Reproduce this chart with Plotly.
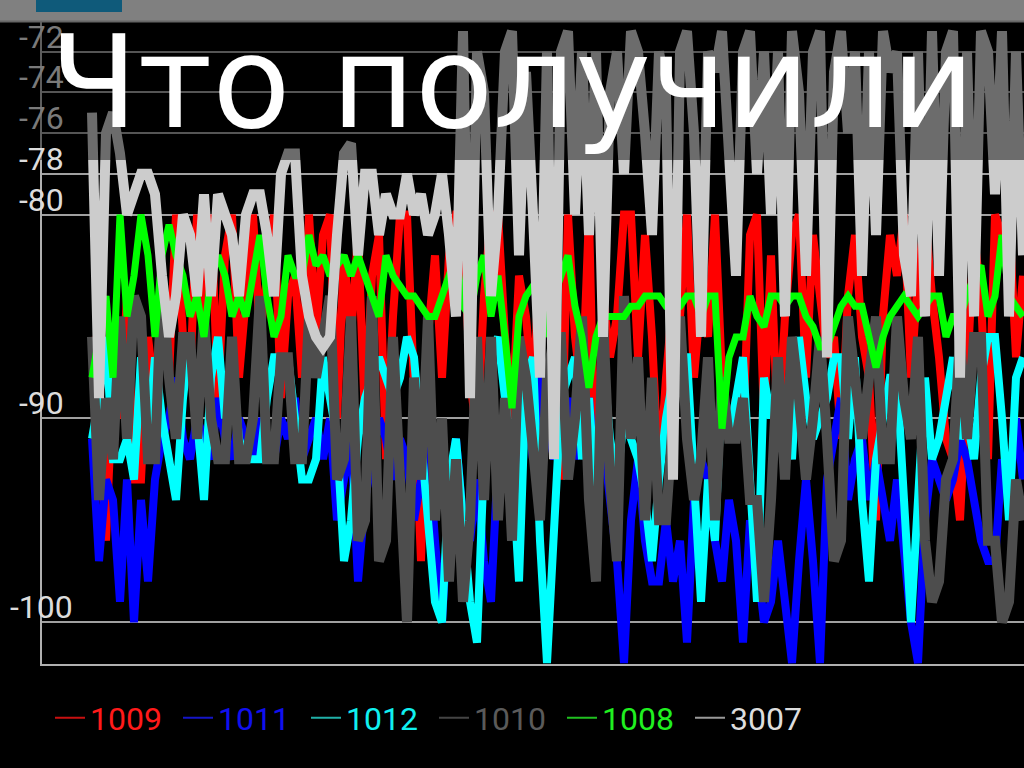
import plotly.graph_objects as go

# ---------------- data (dBm readings, one per sample) ----------------
s1009 = [-86, -90, -96, -88, -90, -84, -93, -93, -86, -89,
         -84, -88, -80, -86, -88, -80, -86, -80, -89, -82,
         -80, -88, -84, -80, -86, -83, -80, -89, -84, -83,
         -88, -80, -86, -81, -80, -90, -82, -86, -81, -90,
         -83, -81, -92, -85, -80, -80, -88, -97, -86, -82,
         -88, -82, -80, -80, -88, -91, -84, -80, -80, -86,
         -90, -83, -85, -89, -82, -80, -87, -93, -80, -86,
         -89, -80, -95, -84, -87, -85, -80, -80, -87, -81,
         -86, -93, -88, -84, -85, -80, -88, -84, -86, -80,
         -88, -91, -89, -91, -81, -80, -90, -82, -91, -85,
         -81, -80, -88, -81, -84, -87, -86, -91, -84, -81,
         -86, -88, -95, -85, -81, -83, -80, -88, -83, -80,
         -84, -87, -91, -92, -95, -88, -81, -84, -92, -80,
         -81, -80, -87, -83]

s1011 = [-91, -97, -93, -94, -99, -93, -100, -94, -98, -93,
         -91, -90, -88, -91, -92, -90, -91, -92, -89, -91,
         -92, -90, -91, -92, -90, -91, -92, -90, -91, -89,
         -92, -91, -90, -92, -90, -95, -93, -91, -98, -94,
         -92, -90, -91, -93, -91, -92, -95, -93, -91, -96,
         -100, -94, -91, -95, -96, -93, -97, -99, -92, -90,
         -91, -94, -89, -92, -88, -90, -92, -91, -89, -92,
         -90, -89, -93, -91, -94, -97, -102, -95, -92, -96,
         -98, -98, -95, -98, -96, -101, -94, -92, -93, -96,
         -98, -94, -96, -101, -95, -97, -100, -99, -96, -99,
         -102, -97, -93, -97, -102, -93, -91, -89, -94, -92,
         -91, -94, -92, -94, -96, -93, -97, -100, -102, -95,
         -92, -93, -94, -93, -91, -92, -94, -96, -97, -97,
         -92, -94, -90, -93]

s1012 = [-91, -89, -86, -92, -92, -91, -93, -87, -91, -87,
         -90, -92, -94, -89, -86, -90, -94, -88, -86, -90,
         -87, -91, -92, -92, -92, -89, -87, -87, -87, -90,
         -93, -93, -92, -87, -89, -91, -97, -95, -91, -89,
         -88, -87, -88, -89, -88, -86, -87, -91, -95, -99,
         -100, -93, -91, -95, -99, -101, -92, -87, -86, -89,
         -92, -98, -88, -87, -96, -102, -96, -89, -88, -87,
         -92, -89, -94, -87, -91, -93, -90, -91, -92, -94,
         -97, -93, -90, -88, -87, -87, -93, -99, -93, -96,
         -88, -91, -89, -87, -93, -99, -88, -90, -88, -90,
         -92, -86, -89, -91, -90, -89, -87, -87, -91, -87,
         -94, -98, -92, -90, -88, -88, -95, -100, -94, -88,
         -92, -91, -89, -87, -91, -90, -92, -88, -86, -86,
         -90, -95, -88, -87]

s1010 = [-86, -94, -89, -92, -85, -91, -84, -85, -92, -92,
         -83, -88, -91, -86, -86, -91, -85, -90, -92, -92,
         -86, -92, -92, -90, -84, -92, -92, -87, -87, -92,
         -92, -85, -88, -86, -84, -93, -92, -85, -96, -95,
         -84, -97, -96, -86, -92, -100, -88, -93, -85, -95,
         -90, -98, -92, -99, -95, -86, -94, -86, -95, -89,
         -96, -86, -88, -92, -95, -88, -86, -86, -93, -90,
         -85, -94, -98, -85, -93, -97, -84, -91, -87, -95,
         -88, -95, -95, -90, -85, -91, -94, -92, -87, -95,
         -88, -91, -91, -89, -94, -94, -99, -94, -87, -93,
         -86, -89, -93, -90, -86, -91, -97, -96, -85, -88,
         -91, -88, -85, -92, -92, -85, -89, -91, -86, -96,
         -99, -98, -93, -92, -86, -91, -86, -86, -96, -96,
         -100, -99, -93, -95]

s1008 = [-88, -86, -84, -88, -80, -85, -83, -80, -82, -86,
         -82, -80.5, -82, -83, -85, -84, -86, -83, -82, -83,
         -85, -84, -85, -83, -81, -84, -86, -85, -82, -83,
         -83, -81, -82.5, -82, -83, -82.5, -82, -83, -82, -83,
         -84, -85, -82, -83, -83.5, -84, -84, -84.5, -85, -85,
         -84, -83, -82, -84.5, -85, -83, -82, -85, -83, -86,
         -89.5, -85, -84, -83.5, -83, -86, -84, -83, -82, -84.5,
         -86, -88.5, -86, -85, -85, -85, -85, -84.5, -84.5, -84,
         -84, -84, -84.5, -84.5, -84.5, -84, -84, -85, -84, -84,
         -90.5, -87, -86, -86, -84, -85, -85.5, -84, -84, -84.5,
         -84, -84, -85, -85.5, -86.5, -86.5, -85.5, -84.5, -84, -84.5,
         -84.5, -86, -87.5, -86, -85, -84.5, -84, -84.5, -85, -84.5,
         -84, -84, -86, -85, -85, -84, -83, -82.5, -85, -84,
         -81, -84, -84.5, -85]

s3007 = [-75, -89, -76, -75, -77, -80, -79, -78, -78, -79,
         -83, -86, -84, -80, -81, -84, -79, -84, -79, -80,
         -81, -84, -80, -79, -79, -81, -84, -78, -77, -77,
         -83, -85, -86, -86.5, -86, -81, -77, -76.5, -82, -78,
         -78, -81, -79, -80, -80, -78, -80, -79, -81, -80,
         -78, -81, -85, -71, -89, -72, -74, -84, -80, -72,
         -71, -82, -73, -80, -88, -72, -92, -72, -71, -80,
         -72, -81, -72, -86, -74, -72, -78, -71, -72, -76,
         -81, -72, -74, -93, -72, -71, -76, -86, -72, -73,
         -71, -77, -83, -72, -71, -78, -72, -80, -72, -85,
         -71, -74, -83, -72, -71, -87, -73, -71, -76, -72,
         -83, -72, -81, -71, -73, -72, -82, -84, -72, -85,
         -71, -83, -72, -71, -88, -72, -85, -71, -72, -79,
         -71, -85, -72, -82]

series_names = ["1009", "1011", "1012", "1010", "1008", "3007"]
series_values = [s1009, s1011, s1012, s1010, s1008, s3007]
line_colors = ["#ff0000", "#0000ff", "#00ffff", "#4d4d4d", "#00ff00", "#cccccc"]
line_widths = [8, 8, 8, 10, 7, 10]
legend_line_colors = ["#c81010", "#1515c8", "#20b0a8", "#444444", "#20c020", "#9a9a9a"]
legend_text_colors = ["#ff1a1a", "#1010f0", "#10f0f0", "#5a5a5a", "#20f020", "#dddddd"]

y_ticks = [-72, -74, -76, -78, -80, -90, -100]
y_tick_colors = ["#7a7a7a", "#7a7a7a", "#7a7a7a", "#dcdcdc", "#dcdcdc", "#dcdcdc", "#dcdcdc"]

title_text = "Что получили"

# ---------------- figure ----------------
W, H = 1024, 768
ML, MR, MT, MB = 42, 0, 22, 104
PW, PH = W - ML - MR, H - MT - MB


def px_x(px):
    return (px - ML) / PW


def px_y(py):
    return (H - MB - py) / PH


fig = go.Figure()
for name, vals, col, wid in zip(series_names, series_values, line_colors, line_widths):
    fig.add_trace(go.Scatter(x=list(range(len(vals))), y=vals, mode="lines",
                             line=dict(color=col, width=wid), showlegend=False,
                             hoverinfo="skip", name=name))

# legend entries (thin lines, coloured labels)
for name, lc, tc in zip(series_names, legend_line_colors, legend_text_colors):
    fig.add_trace(go.Scatter(x=[None], y=[None], mode="lines",
                             line=dict(color=lc, width=2),
                             name=f"<span style='color:{tc}'>{name}</span>"))

step_px = 7.0
x0 = -(92 - ML) / step_px
x1 = x0 + PW / step_px

shapes = [
    # translucent band behind the title
    dict(type="rect", xref="paper", yref="paper", x0=px_x(0), x1=1.0,
         y0=px_y(160), y1=1.0, fillcolor="rgba(0,0,0,0.47)", line_width=0, layer="above"),
    # top grey bar
    dict(type="rect", xref="paper", yref="paper", x0=px_x(0), x1=1.0,
         y0=1.0, y1=px_y(-2), fillcolor="#808080", line_width=0, layer="above"),
    dict(type="line", xref="paper", yref="paper", x0=px_x(0), x1=1.0,
         y0=px_y(21.5), y1=px_y(21.5), line=dict(color="#666666", width=2), layer="above"),
    dict(type="rect", xref="paper", yref="paper", x0=px_x(36), x1=px_x(122),
         y0=px_y(12), y1=px_y(-2), fillcolor="#0f5a7a", line_width=0, layer="above"),
]

annotations = []
for v, c in zip(y_ticks, y_tick_colors):
    annotations.append(dict(x=px_x(41), xref="paper", y=v, yref="y", text=str(v),
                            showarrow=False, xanchor="center", yanchor="middle", yshift=15,
                            font=dict(family="Roboto", size=32, color=c)))
annotations.append(dict(x=px_x(48), xref="paper", y=px_y(82), yref="paper", text=title_text,
                        showarrow=False, xanchor="left", yanchor="middle",
                        font=dict(family="DejaVu Sans", size=128, color="#ffffff")))

fig.update_layout(
    width=W, height=H,
    margin=dict(l=ML, r=MR, t=MT, b=MB, autoexpand=False),
    paper_bgcolor="#000000", plot_bgcolor="#000000",
    showlegend=True,
    legend=dict(orientation="h", x=px_x(50), xanchor="left", y=px_y(718), yanchor="middle",
                font=dict(family="Roboto", size=32, color="#dddddd"),
                bgcolor="rgba(0,0,0,0)", entrywidth=83, entrywidthmode="pixels",
                tracegroupgap=0, itemwidth=30),
    xaxis=dict(range=[x0, x1], showgrid=False, zeroline=False, showticklabels=False,
               ticks="", showline=True, linecolor="#b0b0b0", linewidth=2),
    yaxis=dict(range=[-102.05, -70.55], tickvals=y_ticks, showticklabels=False, ticks="",
               showgrid=True, gridcolor="#a0a0a0", gridwidth=2, zeroline=False,
               showline=True, linecolor="#b0b0b0", linewidth=2),
    shapes=shapes,
    annotations=annotations,
)

fig.write_html("out.html",
               config={"displayModeBar": False},
               post_script="document.body.style.margin='0px';"
                           "document.body.style.background='#000';")
